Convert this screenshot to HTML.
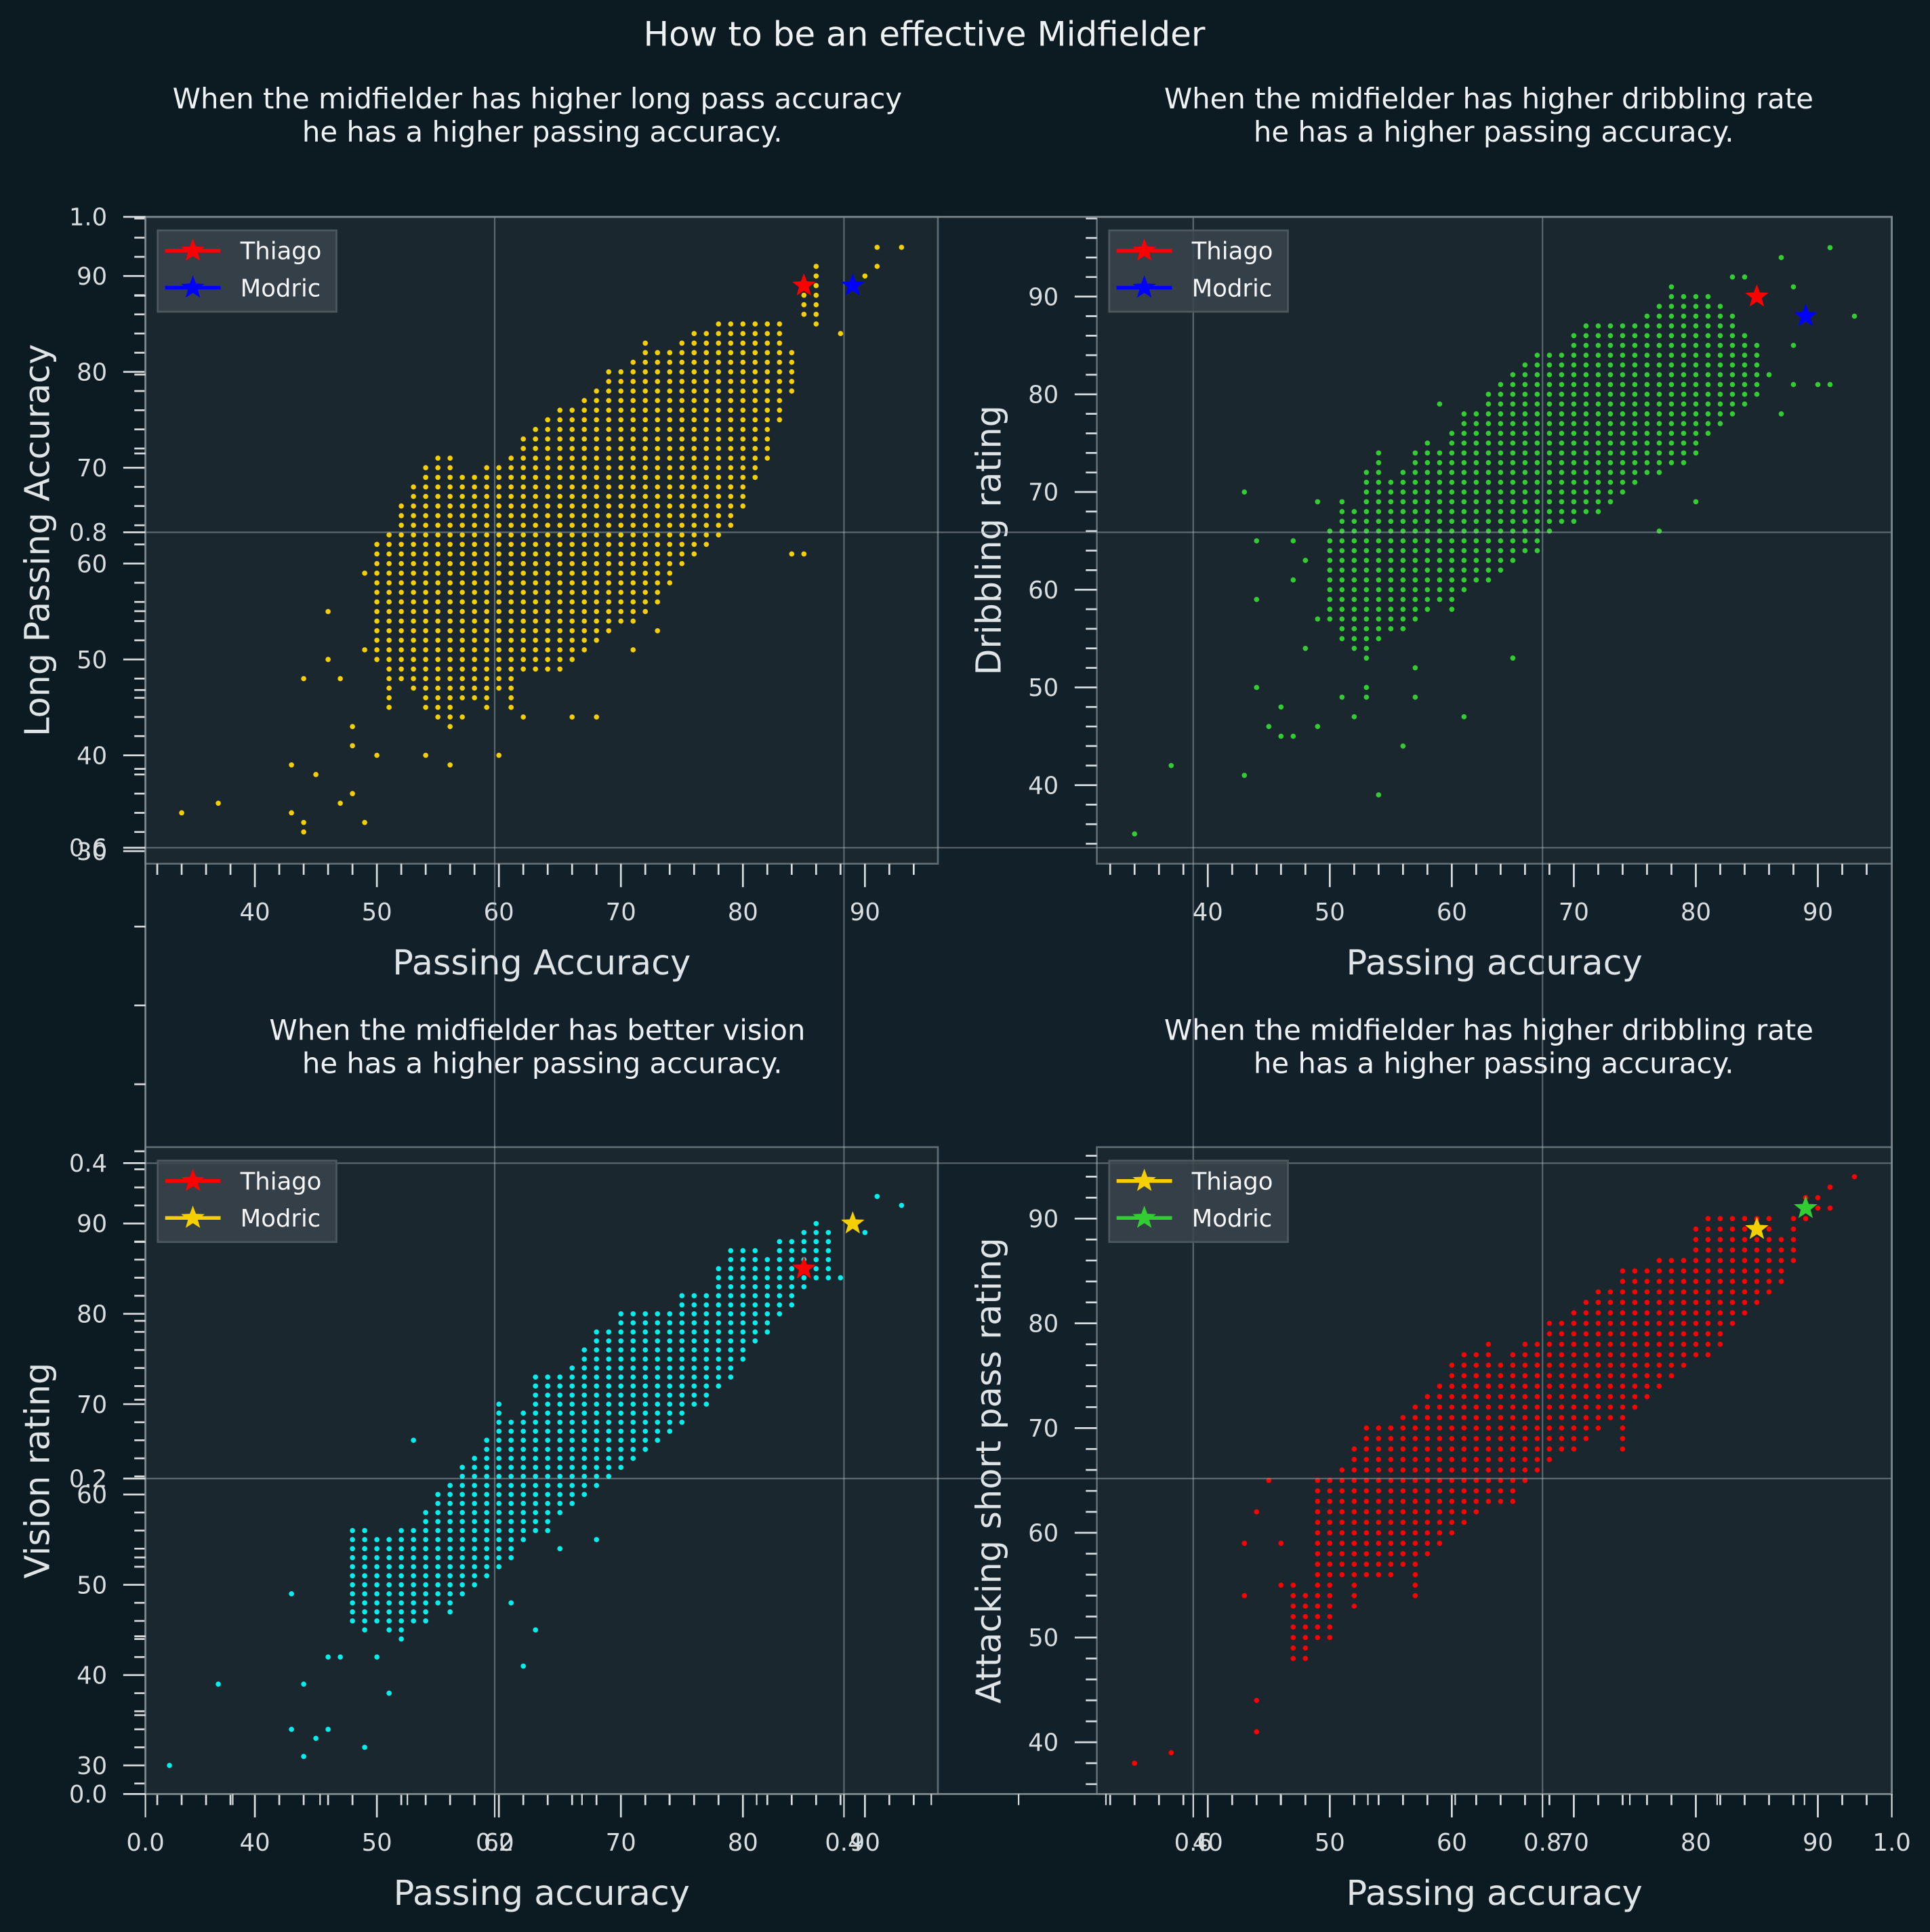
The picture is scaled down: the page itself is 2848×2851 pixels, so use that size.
<!DOCTYPE html>
<html><head><meta charset="utf-8"><style>
html,body{margin:0;padding:0;background:#0c1a21;}
svg{display:block;font-family:"DejaVu Sans","Liberation Sans",sans-serif;}
</style></head><body>
<svg id="fig" xmlns="http://www.w3.org/2000/svg" width="2848" height="2851" viewBox="0 0 1566 1568" preserveAspectRatio="none">
<rect x="0" y="0" width="1566" height="1568" fill="#0c1a21"/>
<rect x="118" y="176" width="1417" height="1280" fill="#12202a"/>
<g id="panels"></g>
<g id="overlay"></g>
<text x="750" y="37" text-anchor="middle" font-size="27.5" fill="#eef2f4">How to be an effective Midfielder</text>
<text x="436" y="88" text-anchor="middle" font-size="23" fill="#eef2f4"><tspan x="436">When the midfielder has higher long pass accuracy</tspan><tspan x="440" dy="27">he has a higher passing accuracy.</tspan></text>
<text x="1208" y="88" text-anchor="middle" font-size="23" fill="#eef2f4"><tspan x="1208">When the midfielder has higher dribbling rate</tspan><tspan x="1212" dy="27">he has a higher passing accuracy.</tspan></text>
<text x="436" y="844" text-anchor="middle" font-size="23" fill="#eef2f4"><tspan x="436">When the midfielder has better vision</tspan><tspan x="440" dy="27">he has a higher passing accuracy.</tspan></text>
<text x="1208" y="844" text-anchor="middle" font-size="23" fill="#eef2f4"><tspan x="1208">When the midfielder has higher dribbling rate</tspan><tspan x="1212" dy="27">he has a higher passing accuracy.</tspan></text>
</svg>
<script>
// ---------- data ----------
const p1X=[50,51,52,53,54,55,56,57,58,59,60,61,62,63,64,65,66,67,68,69,70,71,72,73,74,75,76,77,78,79,80,81,82,83,84,85,86];
const p1Lo=[50,45,48,47,45,44,43,46,46,45,47,45,49,49,49,49,50,51,52,53,54,54,55,56,58,60,61,62,63,64,66,69,71,75,78,86,85];
const p1Hi=[62,63,66,68,70,71,71,69,69,70,70,71,73,74,75,76,76,77,78,80,80,81,83,82,82,83,84,84,85,85,85,85,85,85,82,89,91];
const p1OutX=[34,37,43,43,44,44,44,45,46,46,47,47,48,48,48,49,49,49,50,54,56,57,60,62,66,68,71,73,79,84,85,88,89,90,91,91,93];
const p1OutY=[34,35,39,34,33,32,48,38,55,50,48,35,36,43,41,33,51,59,40,40,39,44,40,44,44,44,51,53,68,61,61,84,89,90,91,93,93];
const p1Thiago=[85,89], p1Modric=[89,89];

const p2X=[50,51,52,53,54,55,56,57,58,59,60,61,62,63,64,65,66,67,68,69,70,71,72,73,74,75,76,77,78,79,80,81,82,83,84,85];
const p2Lo=[57,55,54,53,55,56,56,57,58,59,58,60,61,61,62,63,64,64,66,67,67,68,68,69,70,71,72,72,73,73,74,76,77,78,79,80];
const p2Hi=[66,69,68,72,74,71,72,74,75,74,76,78,78,80,81,82,83,84,84,84,86,87,87,87,87,87,88,89,91,90,90,90,89,88,86,85];
const p2OutX=[34,37,43,43,44,44,44,45,46,46,47,47,47,48,48,49,49,49,51,52,53,53,54,56,57,57,61,65,59,77,80,86,87,88,88,88,90,91,91,93,87,84,83];
const p2OutY=[35,42,41,70,65,59,50,46,48,45,45,61,65,54,63,57,46,69,49,47,50,49,39,44,49,52,47,53,79,66,69,82,78,81,85,91,81,81,95,88,94,92,92];
const p2Thiago=[85,90], p2Modric=[89,88];

const p3X=[48,49,50,51,52,53,54,55,56,57,58,59,60,61,62,63,64,65,66,67,68,69,70,71,72,73,74,75,76,77,78,79,80,81,82,83,84,85,86,87];
const p3Lo=[46,45,46,45,44,46,46,48,47,49,50,51,52,53,55,56,56,58,59,60,61,62,63,64,65,66,67,68,70,71,72,73,75,77,78,80,81,83,84,84];
const p3Hi=[56,56,55,55,56,56,58,60,61,63,64,66,70,68,69,73,73,73,74,76,78,78,80,80,80,80,80,82,82,82,85,87,87,87,86,88,88,89,90,89];
const p3OutX=[33,37,43,43,44,44,45,46,46,47,49,50,51,53,61,62,63,65,68,77,86,90,91,93,88];
const p3OutY=[30,39,49,34,39,31,33,34,42,42,32,42,38,66,48,41,45,54,55,70,88,89,93,92,84];
const p3Thiago=[85,85], p3Modric=[89,90];

const p4X=[47,48,49,50,51,52,53,54,55,56,57,58,59,60,61,62,63,64,65,66,67,68,69,70,71,72,73,74,75,76,77,78,79,80,81,82,83,84,85,86,87,88];
const p4Lo=[48,48,50,50,56,53,56,56,56,57,54,58,59,60,61,62,63,63,63,65,66,67,68,68,69,70,71,68,72,73,74,75,76,77,77,78,80,81,82,83,84,86];
const p4Hi=[55,54,65,65,66,68,70,70,70,71,72,73,74,76,77,77,78,76,77,78,78,80,80,81,82,83,83,85,85,85,86,86,86,89,90,90,90,90,90,90,88,90];
const p4OutX=[34,37,43,43,44,44,44,45,46,46,89,90,90,91,91,93,89];
const p4OutY=[38,39,59,54,62,44,41,65,55,59,90,91,92,93,91,94,92];
const p4Thiago=[85,89], p4Modric=[89,91];

const xTicks=[40,50,60,70,80,90];
const overlayTicks=["0.0","0.2","0.4","0.6","0.8","1.0"];

// ---------- drawing ----------
const NS="http://www.w3.org/2000/svg";
const panelsG=document.getElementById('panels');
const overlayG=document.getElementById('overlay');
function mk(tag,attrs,parent){const e=document.createElementNS(NS,tag);for(const k in attrs)e.setAttribute(k,attrs[k]);parent.appendChild(e);return e;}
function starPts(cx,cy,R){const r=R*0.42;let p=[];for(let i=0;i<10;i++){const a=-Math.PI/2+i*Math.PI/5;const rr=i%2?r:R;p.push((cx+rr*Math.cos(a)).toFixed(2)+','+(cy+rr*Math.sin(a)).toFixed(2));}return p.join(' ');}

const panels=[
 {name:'long-passing',L:118,T:176,R:761,B:701,x0:206.8,y90:224,ppy:7.78,yT:[30,40,50,60,70,80,90],yMin:29,yMax:96,
  X:p1X,Lo:p1Lo,Hi:p1Hi,OX:p1OutX,OY:p1OutY,th:p1Thiago,mo:p1Modric,col:'#f5cf00',thc:'#ff0000',moc:'#0000ff',ylab:'Long Passing Accuracy',xlab:'Passing Accuracy',ylx:30},
 {name:'dribbling',L:890,T:176,R:1535,B:701,x0:980,y90:240.7,ppy:7.93,yT:[40,50,60,70,80,90],yMin:33,yMax:98,
  X:p2X,Lo:p2Lo,Hi:p2Hi,OX:p2OutX,OY:p2OutY,th:p2Thiago,mo:p2Modric,col:'#32cd32',thc:'#ff0000',moc:'#0000ff',ylab:'Dribbling rating',xlab:'Passing accuracy',ylx:802},
 {name:'vision',L:118,T:931,R:761,B:1456,x0:206.8,y90:993,ppy:7.33,yT:[30,40,50,60,70,80,90],yMin:27,yMax:98,
  X:p3X,Lo:p3Lo,Hi:p3Hi,OX:p3OutX,OY:p3OutY,th:p3Thiago,mo:p3Modric,col:'#00f0f0',thc:'#ff0000',moc:'#f5cf00',ylab:'Vision rating',xlab:'Passing accuracy',ylx:30},
 {name:'short-pass',L:890,T:931,R:1535,B:1456,x0:980,y90:989,ppy:8.5,yT:[40,50,60,70,80,90],yMin:36,yMax:96,
  X:p4X,Lo:p4Lo,Hi:p4Hi,OX:p4OutX,OY:p4OutY,th:p4Thiago,mo:p4Modric,col:'#ff0000',thc:'#f5cf00',moc:'#32cd32',ylab:'Attacking short pass rating',xlab:'Passing accuracy',ylx:802}
];

panels.forEach(p=>{
  const sx=v=>p.x0+(v-40)*9.9;
  const sy=v=>p.y90+(90-v)*p.ppy;
  const g=mk('g',{},panelsG);
  
  
  const bg=mk('rect',{x:p.L,y:p.T,width:p.R-p.L,height:p.B-p.T,fill:'#1b272e',stroke:'#5f6b72','stroke-width':1.5},g);
  
  
  for(let v=Math.ceil(p.yMin/2)*2;v<=p.yMax;v+=2){
    const y=sy(v),maj=v%10===0;
    const t=mk('line',{x1:p.L-(maj?18:9),x2:p.L,y1:y,y2:y,stroke:'#d8dde0','stroke-width':1.5},g);
    
    
  }
  p.yT.forEach(v=>{
    const t=mk('text',{x:p.L-31,y:sy(v)+7,'text-anchor':'end','font-size':19.5,fill:'#d8dde0'},g);
    t.textContent=v;
    
    
  });
  for(let v=32;v<=95;v+=2){
    const x=sx(v),maj=v%10===0;
    const t=mk('line',{x1:x,x2:x,y1:p.B,y2:p.B+(maj?19:9),stroke:'#d8dde0','stroke-width':1.5},g);
    
    
  }
  xTicks.forEach(v=>{
    const t=mk('text',{x:sx(v),y:p.B+46,'text-anchor':'middle','font-size':19.5,fill:'#d8dde0'},g);
    t.textContent=v;
    
    
  });
  const xl=mk('text',{x:(p.L+p.R)/2,y:p.B+90,'text-anchor':'middle','font-size':28,fill:'#dfe4e7'},g);
  xl.textContent=p.xlab;
  
  
  const cy=(p.T+p.B)/2;
  const yl=mk('text',{x:p.ylx,y:cy+10,'text-anchor':'middle','font-size':28,fill:'#dfe4e7',transform:'rotate(-90 '+(p.ylx)+' '+cy+')'},g);
  yl.textContent=p.ylab;
  
  
  const dg=mk('g',{fill:p.col},g);
  
  
  p.X.forEach((xv,i)=>{
    for(let yv=p.Lo[i];yv<=p.Hi[i];yv++){
      const c=mk('circle',{cx:sx(xv).toFixed(1),cy:sy(yv).toFixed(1),r:2.1},dg);
      
      
    }
  });
  p.OX.forEach((xv,i)=>{
    const c=mk('circle',{cx:sx(xv).toFixed(1),cy:sy(p.OY[i]).toFixed(1),r:2.1},dg);
    
    
  });
  p.sx=sx;p.sy=sy;
});

const ovL=118,ovR=1535,ovT=176,ovB=1456;
const og=mk('g',{},overlayG);


[0.2,0.4,0.6,0.8].forEach(f=>{
  const x=ovL+f*(ovR-ovL), y=ovB-f*(ovB-ovT);
  const a=mk('line',{x1:x,x2:x,y1:ovT,y2:ovB,stroke:'#b0bac0','stroke-opacity':0.45,'stroke-width':1.2},og);
  
  
  const b=mk('line',{x1:ovL,x2:ovR,y1:y,y2:y,stroke:'#b0bac0','stroke-opacity':0.45,'stroke-width':1.2},og);
  
  
});
const ob=mk('rect',{x:ovL,y:ovT,width:ovR-ovL,height:ovB-ovT,fill:'none',stroke:'#7d888e','stroke-width':1.5},og);


for(let i=0;i<=20;i++){
  const f=i/20,maj=i%4===0;
  const y=ovB-f*(ovB-ovT), x=ovL+f*(ovR-ovL);
  const a=mk('line',{x1:ovL-(maj?18:9),x2:ovL,y1:y,y2:y,stroke:'#d8dde0','stroke-width':1.5},og);
  
  
  const b=mk('line',{x1:x,x2:x,y1:ovB,y2:ovB+(maj?19:9),stroke:'#d8dde0','stroke-width':1.2},og);
  
  
}
overlayTicks.forEach((s,i)=>{
  const f=i/5;
  const a=mk('text',{x:ovL-31,y:ovB-f*(ovB-ovT)+7,'text-anchor':'end','font-size':19.5,fill:'#d8dde0'},og);
  a.textContent=s;
  
  
  const b=mk('text',{x:ovL+f*(ovR-ovL),y:ovB+46,'text-anchor':'middle','font-size':19.5,fill:'#d8dde0'},og);
  b.textContent=s;
  
  
});

panels.forEach(p=>{
  const g=mk('g',{},overlayG);
  
  
  const s1=mk('polygon',{points:starPts(p.sx(p.th[0]),p.sy(p.th[1]),10),fill:p.thc},g);
  
  
  const s2=mk('polygon',{points:starPts(p.sx(p.mo[0]),p.sy(p.mo[1]),10),fill:p.moc},g);
  
  
  const lx=p.L+10, ly=p.T+11;
  const lg=mk('g',{},overlayG);
  
  
  mk('rect',{x:lx,y:ly,width:145,height:66,fill:'#3a444b','fill-opacity':0.85,stroke:'#4d585f','stroke-width':1.5},lg);
  [['Thiago',p.thc,16.5],['Modric',p.moc,46.5]].forEach(e=>{
    const eg=mk('g',{},lg);
    
    
    mk('line',{x1:lx+6,x2:lx+51,y1:ly+e[2],y2:ly+e[2],stroke:e[1],'stroke-width':3},eg);
    mk('polygon',{points:starPts(lx+28.5,ly+e[2],10),fill:e[1]},eg);
    const t=mk('text',{x:lx+67,y:ly+e[2]+7,'font-size':19.5,fill:'#f3f5f6'},eg);
    t.textContent=e[0];
  });
});
</script>
</body></html>
